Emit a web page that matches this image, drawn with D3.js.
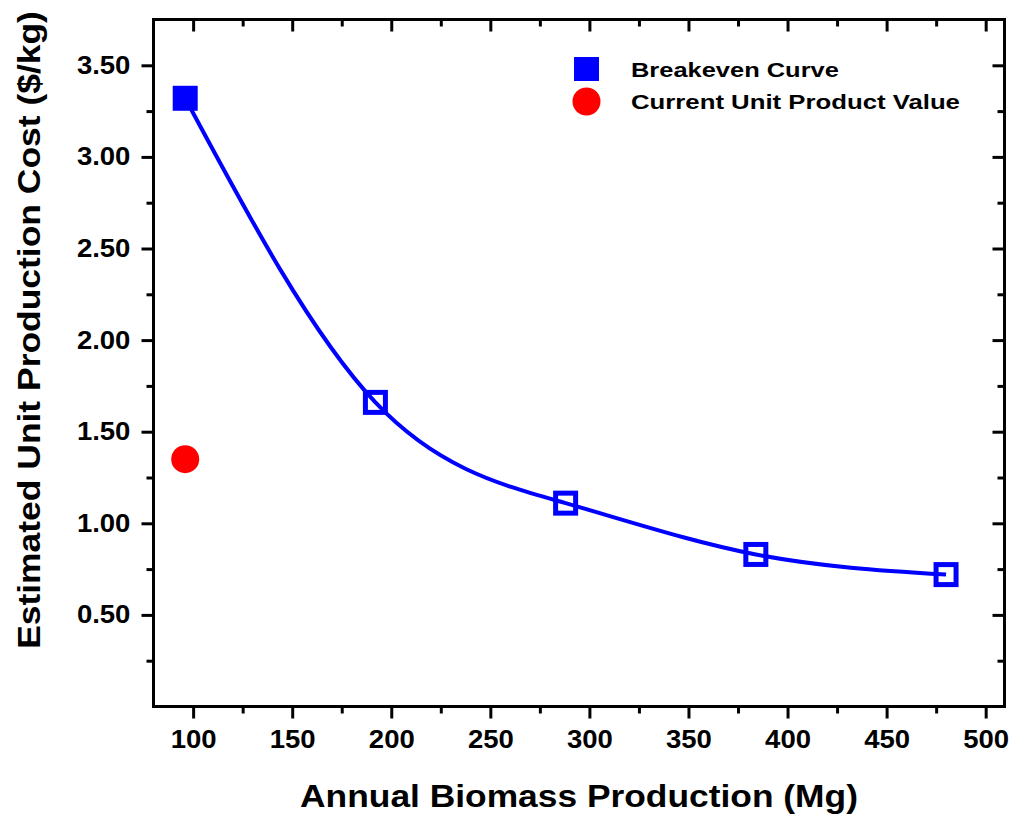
<!DOCTYPE html>
<html>
<head>
<meta charset="utf-8">
<script src="https://cdn.jsdelivr.net/npm/d3@7"></script>
<style>
  html, body { margin: 0; padding: 0; background: #fff; }
  svg { display: block; }
  text { font-family: "Liberation Sans", Arial, sans-serif; font-weight: bold; fill: #000; }
</style>
</head>
<body>
<svg id="chart" width="1011" height="817"></svg>
<script>
// Breakeven curve: annual biomass production (Mg) vs unit production cost ($/kg)
const biomass = [96, 192, 288, 384, 480];
const breakevenCost = [3.32, 1.66, 1.11, 0.83, 0.72];

// Current unit product value
const currentBiomass = [96];
const currentValue = [1.35];

const xTicks = [100, 150, 200, 250, 300, 350, 400, 450, 500];
const yTicks = [0.50, 1.00, 1.50, 2.00, 2.50, 3.00, 3.50];
const legendLabels = ["Breakeven Curve", "Current Unit Product Value"];

const svg = d3.select("#chart");
const plot = { left: 153.5, top: 19.5, right: 1004.5, bottom: 706.5 };

const x = d3.scaleLinear().domain([80, 509.5]).range([plot.left, plot.right]);
const y = d3.scaleLinear().domain([0, 3.75]).range([plot.bottom, plot.top]);

const blue = "#0000ff";
const red = "#ff0000";

// place a text at (tx, ty), stretched horizontally so its width equals `width`
function stretchedText(parent, str, tx, ty, size, width, anchor, rotate) {
  const g = parent.append("g");
  const t = g.append("text").attr("font-size", size).attr("text-anchor", anchor).text(str);
  const s = width / t.node().getComputedTextLength();
  g.attr("transform", `translate(${tx},${ty})` + (rotate ? ` rotate(${rotate})` : "") + ` scale(${s},1)`);
  return t;
}

// frame
svg.append("rect")
  .attr("x", plot.left).attr("y", plot.top)
  .attr("width", plot.right - plot.left).attr("height", plot.bottom - plot.top)
  .attr("fill", "none").attr("stroke", "#000").attr("stroke-width", 3);

const xMinor = d3.range(75, 510, 25).filter(v => v > 80 && v % 50 !== 0);
const yMinor = d3.range(0.25, 3.75, 0.5);

function tickStyle(g) {
  g.select(".domain").remove();
  g.selectAll(".tick line").attr("stroke", "#000").attr("stroke-width", 3);
}
function labelStyle(g, sx) {
  g.selectAll(".tick text").attr("font-size", 25)
    .style("font-family", "Liberation Sans, Arial, sans-serif").style("font-weight", "bold")
    .attr("transform", `scale(${sx},1)`);
}

// bottom axis (outward ticks, labelled)
svg.append("g").attr("transform", `translate(0,${plot.bottom})`)
  .call(d3.axisBottom(x).tickValues(xTicks).tickSize(12).tickPadding(12).tickFormat(d3.format("d")))
  .call(tickStyle).call(labelStyle, 1.1);
svg.append("g").attr("transform", `translate(0,${plot.bottom})`)
  .call(d3.axisBottom(x).tickValues(xMinor).tickSize(7).tickFormat(""))
  .call(tickStyle);

// top axis (inward ticks)
svg.append("g").attr("transform", `translate(0,${plot.top})`)
  .call(d3.axisBottom(x).tickValues(xTicks).tickSize(12).tickFormat(""))
  .call(tickStyle);
svg.append("g").attr("transform", `translate(0,${plot.top})`)
  .call(d3.axisBottom(x).tickValues(xMinor).tickSize(7).tickFormat(""))
  .call(tickStyle);

// left axis (outward ticks, labelled)
svg.append("g").attr("transform", `translate(${plot.left},0)`)
  .call(d3.axisLeft(y).tickValues(yTicks).tickSize(12).tickPadding(9).tickFormat(d3.format(".2f")))
  .call(tickStyle).call(labelStyle, 1.1);
svg.append("g").attr("transform", `translate(${plot.left},0)`)
  .call(d3.axisLeft(y).tickValues(yMinor).tickSize(7).tickFormat(""))
  .call(tickStyle);

// right axis (inward ticks)
svg.append("g").attr("transform", `translate(${plot.right},0)`)
  .call(d3.axisRight(y).tickValues(yTicks).tickSize(-12).tickFormat(""))
  .call(tickStyle);
svg.append("g").attr("transform", `translate(${plot.right},0)`)
  .call(d3.axisRight(y).tickValues(yMinor).tickSize(-7).tickFormat(""))
  .call(tickStyle);

// axis titles
stretchedText(svg, "Annual Biomass Production (Mg)", 579, 807, 32, 558, "middle");
stretchedText(svg, "Estimated Unit Production Cost ($/kg)", 40, 330, 32, 638, "middle", -90);

// breakeven curve
const pts = biomass.map((b, i) => [b, breakevenCost[i]]);
const line = d3.line().x(d => x(d[0])).y(d => y(d[1])).curve(d3.curveNatural);
svg.append("path").datum(pts)
  .attr("d", line).attr("fill", "none").attr("stroke", blue).attr("stroke-width", 4);

// markers: first filled, the rest hollow
const sq = 25, sw = 5;
svg.selectAll(".pt").data(pts).enter().append("rect")
  .attr("class", "pt")
  .attr("x", (d, i) => x(d[0]) - (i === 0 ? sq : sq - sw) / 2)
  .attr("y", (d, i) => y(d[1]) - (i === 0 ? sq : sq - sw) / 2)
  .attr("width", (d, i) => i === 0 ? sq : sq - sw)
  .attr("height", (d, i) => i === 0 ? sq : sq - sw)
  .attr("fill", (d, i) => i === 0 ? blue : "none")
  .attr("stroke", blue)
  .attr("stroke-width", (d, i) => i === 0 ? 0 : sw);

// current value point
svg.selectAll(".cur").data(currentBiomass.map((b, i) => [b, currentValue[i]])).enter()
  .append("circle")
  .attr("cx", d => x(d[0])).attr("cy", d => y(d[1])).attr("r", 14)
  .attr("fill", red);

// legend
const legendWidths = [208, 329];
const legend = svg.append("g");
legend.append("rect").attr("x", 574).attr("y", 57).attr("width", 25).attr("height", 24).attr("fill", blue);
legend.append("circle").attr("cx", 586.5).attr("cy", 101.5).attr("r", 14).attr("fill", red);
legendLabels.forEach((d, i) => stretchedText(legend, d, 631, 77 + i * 32, 20, legendWidths[i], "start"));
</script>
</body>
</html>
